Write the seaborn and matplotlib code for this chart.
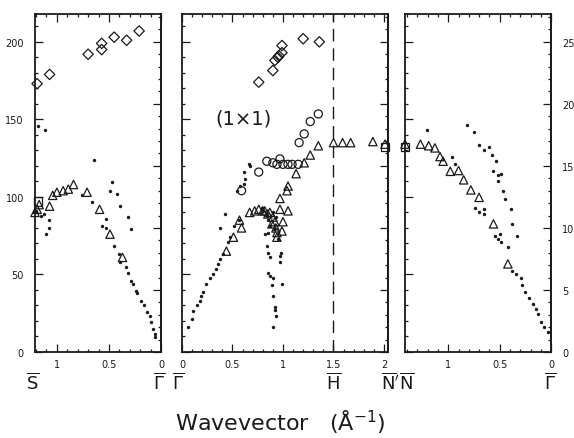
import numpy as np
import pandas as pd
import seaborn as sns
import matplotlib
matplotlib.use("Agg")
import matplotlib.pyplot as plt
from matplotlib.ticker import FixedLocator, FuncFormatter

# --------------------------------------------------------------------
# data (wavevector in 1/A, energy on left scale)
# --------------------------------------------------------------------

# left panel  S - Gamma
left_diamond_q = [1.19, 1.07, 0.70, 0.57, 0.57, 0.45, 0.33, 0.21]
left_diamond_e = [173, 179, 192, 199, 195, 203, 201, 207]
left_tri_q = [1.21, 1.19, 1.17, 1.07, 1.04, 1.00, 0.94, 0.89, 0.84, 0.71, 0.59, 0.49, 0.37]
left_tri_e = [90, 92, 95, 94, 101, 103, 104, 105, 108, 103, 92, 76, 61]
left_square_q = [1.18]
left_square_e = [97]
left_dot_q = [1.18, 1.11, 0.64, 0.47, 0.49, 0.42, 0.39, 0.32, 0.29,
              1.20, 1.15, 1.12, 1.08, 1.10, 1.08, 0.76, 0.66, 0.53, 0.57, 0.53,
              0.45, 0.40, 0.39, 0.34, 0.32, 0.29, 0.27, 0.24, 0.23, 0.19, 0.16,
              0.13, 0.11, 0.10, 0.08, 0.06, 0.06]
left_dot_e = [146, 143, 124, 109.5, 104, 102, 94, 87, 79,
              91, 88, 89, 85, 76, 80, 101, 96.5, 86, 81.5, 80,
              68.6, 63, 58, 54.6, 51, 46, 44, 39.5, 38, 33, 30,
              25.6, 23.4, 19, 15, 11.6, 9.5]

# middle panel  Gamma - H - N'
mid_diamond_q = [0.76, 0.90, 0.92, 0.95, 0.96, 0.99, 0.99, 1.20, 1.36]
mid_diamond_e = [174, 181.5, 188, 190, 191, 193, 197.6, 202, 200]
mid_circle_q = [0.59, 0.76, 0.84, 0.90, 0.94, 0.97, 1.00, 1.05, 1.09, 1.15, 1.16, 1.21, 1.27, 1.35]
mid_circle_e = [104, 116, 123, 122, 121, 124.5, 121, 121, 121, 121, 135, 140.6, 148.6, 153.5]
mid_tri_q = [0.44, 0.51, 0.59, 0.57, 0.67, 0.72, 0.76, 0.80, 0.82, 0.85, 0.87, 0.90, 0.89,
             0.92, 0.93, 0.94, 0.94, 0.99, 1.00, 0.97, 1.05, 0.97, 1.04, 1.05, 1.13,
             1.21, 1.27, 1.35, 1.50, 1.59, 1.67, 1.89, 2.01]
mid_tri_e = [65, 74, 80, 85, 90, 91, 92, 91, 91, 89, 90, 87, 82.6,
             84, 80, 77, 74, 78, 84, 92, 91, 99, 104, 107, 115,
             122, 127, 133, 135, 135, 135, 135.7, 134]
mid_square_q = [2.01]
mid_square_e = [132]
mid_dot_q = [0.06, 0.10, 0.11, 0.15, 0.18, 0.19, 0.21, 0.24, 0.28, 0.31, 0.34, 0.36,
             0.38, 0.41, 0.46, 0.48, 0.38, 0.43, 0.52, 0.56,
             0.84, 0.85, 0.87, 0.85, 0.87, 0.90, 0.89, 0.90, 0.92, 0.92, 0.93, 0.90,
             0.97, 0.98, 0.97, 0.99, 0.95,
             0.79, 0.80, 0.84, 0.85, 0.87, 0.82, 0.85, 0.90, 0.93, 0.91,
             0.54, 0.57, 0.61, 0.61, 0.62, 0.66, 0.67]
mid_dot_e = [16, 21, 26.6, 30, 33, 36, 38.5, 44, 48, 50, 53.5, 57,
             60, 63, 71, 74, 80, 89, 81.5, 85,
             68.6, 64, 61, 51, 49, 48, 43, 36, 29, 27, 23.4, 16,
             62, 64, 58, 44, 73,
             93, 91, 88, 85, 81.5, 76, 77, 90, 87, 79,
             104, 107, 108, 116, 111.6, 121, 120]

# right panel  N - Gamma
right_tri_q = [1.42, 1.27, 1.19, 1.13, 1.08, 1.05, 0.98, 0.90, 0.85, 0.78, 0.70, 0.56, 0.42]
right_tri_e = [134, 134, 133, 131.6, 126, 123, 116.5, 117, 111, 104.5, 99.7, 82.6, 56.8]
right_square_q = [1.42]
right_square_e = [132]
right_dot_q = [1.21, 0.96, 0.93, 0.74, 0.70, 0.65, 0.65, 0.55, 0.52, 0.50, 0.49, 0.42,
               0.38, 0.34, 0.29, 0.28, 0.25, 0.21, 0.18, 0.15, 0.13, 0.10, 0.07, 0.03,
               0.82, 0.75, 0.70, 0.65, 0.60, 0.57, 0.54, 0.56, 0.52, 0.49, 0.52,
               0.47, 0.45, 0.39, 0.38, 0.33]
right_dot_e = [143, 125.6, 121, 93, 90, 92, 89, 75, 73, 76, 70.7, 67.5,
               52.5, 50, 48, 43, 38.5, 35, 31, 27.7, 24.5, 19, 16, 12.7,
               146.5, 142, 133.5, 130, 132, 127, 123.4, 117, 114, 114.5, 110,
               104, 98.7, 92, 82.6, 74.6]

# tick values
e_major = [0, 50, 100, 150, 200]
e_minor = list(range(0, 211, 10))
f_major = [0, 5, 10, 15, 20, 25]
f_minor = list(range(0, 28))

E_MAX = 218
THZ = 8.0   # left units per right-axis unit

# --------------------------------------------------------------------
sns.set_style("ticks")
plt.rcParams["font.family"] = ["DejaVu Sans"]
plt.rcParams["mathtext.fontset"] = "dejavusans"

ink = "#1a1a1a"

fig = plt.figure(figsize=(5.74, 4.39), dpi=100)
ax_l = fig.add_axes([0.061, 0.196, 0.2195, 0.770])
ax_m = fig.add_axes([0.317, 0.196, 0.359, 0.770])
ax_r = fig.add_axes([0.7056, 0.196, 0.2545, 0.770])


def open_pts(ax, q, e, marker, s):
    sns.scatterplot(x=q, y=e, ax=ax, marker=marker, s=s, color=ink,
                    facecolor="none", edgecolor=ink, linewidth=0.9,
                    clip_on=False, zorder=3)


def dots(ax, q, e):
    sns.scatterplot(x=q, y=e, ax=ax, marker="o", s=6, color=ink,
                    edgecolor=ink, linewidth=0, clip_on=False, zorder=3)


def style_panel(ax, xlim, left_labels, right_labels):
    ax.set_xlim(*xlim)
    ax.set_ylim(0, E_MAX)
    hi = max(xlim)
    q_major = [v for v in np.arange(0, 2.01, 0.5) if v <= hi + 1e-9]
    q_minor = [v for v in np.arange(0, 2.01, 0.1) if v <= hi + 1e-9]
    ax.xaxis.set_major_locator(FixedLocator(q_major))
    ax.xaxis.set_minor_locator(FixedLocator(q_minor))
    ax.xaxis.set_major_formatter(FuncFormatter(lambda v, p: "%g" % round(v, 2)))
    ax.yaxis.set_major_locator(FixedLocator(e_major))
    ax.yaxis.set_minor_locator(FixedLocator(e_minor))
    ax.tick_params(which="both", direction="in", top=True, right=False,
                   color=ink, labelsize=7, labelcolor=ink, width=0.9)
    ax.tick_params(which="major", length=6)
    ax.tick_params(which="minor", length=2.5)
    ax.tick_params(axis="y", labelleft=left_labels, pad=8)
    ax.tick_params(axis="x", pad=5)
    for sp in ax.spines.values():
        sp.set_visible(True)
        sp.set_linewidth(1.3)
        sp.set_color(ink)
    sec = ax.secondary_yaxis("right", functions=(lambda y: y / THZ, lambda t: t * THZ))
    sec.yaxis.set_major_locator(FixedLocator(f_major))
    sec.yaxis.set_minor_locator(FixedLocator(f_minor))
    sec.tick_params(which="both", direction="in", color=ink, labelsize=7,
                    labelcolor=ink, width=0.9, pad=8)
    sec.tick_params(which="major", length=6)
    sec.tick_params(which="minor", length=2.5)
    sec.tick_params(labelright=right_labels)
    sec.spines["right"].set_linewidth(1.3)
    ax.set_xlabel("")
    ax.set_ylabel("")


# left panel
open_pts(ax_l, left_diamond_q, left_diamond_e, "D", 28)
open_pts(ax_l, left_tri_q, left_tri_e, "^", 36)
open_pts(ax_l, left_square_q, left_square_e, "s", 34)
dots(ax_l, left_dot_q, left_dot_e)
style_panel(ax_l, (1.21, 0), True, False)

# middle panel
open_pts(ax_m, mid_diamond_q, mid_diamond_e, "D", 28)
open_pts(ax_m, mid_circle_q, mid_circle_e, "o", 34)
open_pts(ax_m, mid_tri_q, mid_tri_e, "^", 36)
open_pts(ax_m, mid_square_q, mid_square_e, "s", 34)
dots(ax_m, mid_dot_q, mid_dot_e)
ax_m.axvline(1.5, color=ink, lw=1.0, dashes=(9, 5))
ax_m.text(0.61, 151, "(1×1)", fontsize=14, ha="center", va="center", color=ink)
style_panel(ax_m, (0, 2.04), False, False)

# right panel
open_pts(ax_r, right_tri_q, right_tri_e, "^", 36)
open_pts(ax_r, right_square_q, right_square_e, "s", 34)
dots(ax_r, right_dot_q, right_dot_e)
style_panel(ax_r, (1.42, 0), False, True)

# symmetry point labels
lab_y = -0.09
sym = dict(fontsize=13, ha="center", va="center", color=ink)
ax_l.text(1.23, lab_y, r"$\overline{\mathrm{S}}$", transform=ax_l.get_xaxis_transform(), **sym)
ax_l.text(0.02, lab_y, r"$\overline{\Gamma}$", transform=ax_l.get_xaxis_transform(), **sym)
ax_m.text(-0.04, lab_y, r"$\overline{\Gamma}$", transform=ax_m.get_xaxis_transform(), **sym)
ax_m.text(1.5, lab_y, r"$\overline{\mathrm{H}}$", transform=ax_m.get_xaxis_transform(), **sym)
ax_m.text(2.06, lab_y, r"$\overline{\mathrm{N}}'$", transform=ax_m.get_xaxis_transform(), **sym)
ax_r.text(1.40, lab_y, r"$\overline{\mathrm{N}}$", transform=ax_r.get_xaxis_transform(), **sym)
ax_r.text(0.01, lab_y, r"$\overline{\Gamma}$", transform=ax_r.get_xaxis_transform(), **sym)

fig.text(0.488, 0.038, "Wavevector   (Å$^{-1}$)", fontsize=16, ha="center",
         va="center", color=ink)

fig.savefig("out.png", dpi=100)
